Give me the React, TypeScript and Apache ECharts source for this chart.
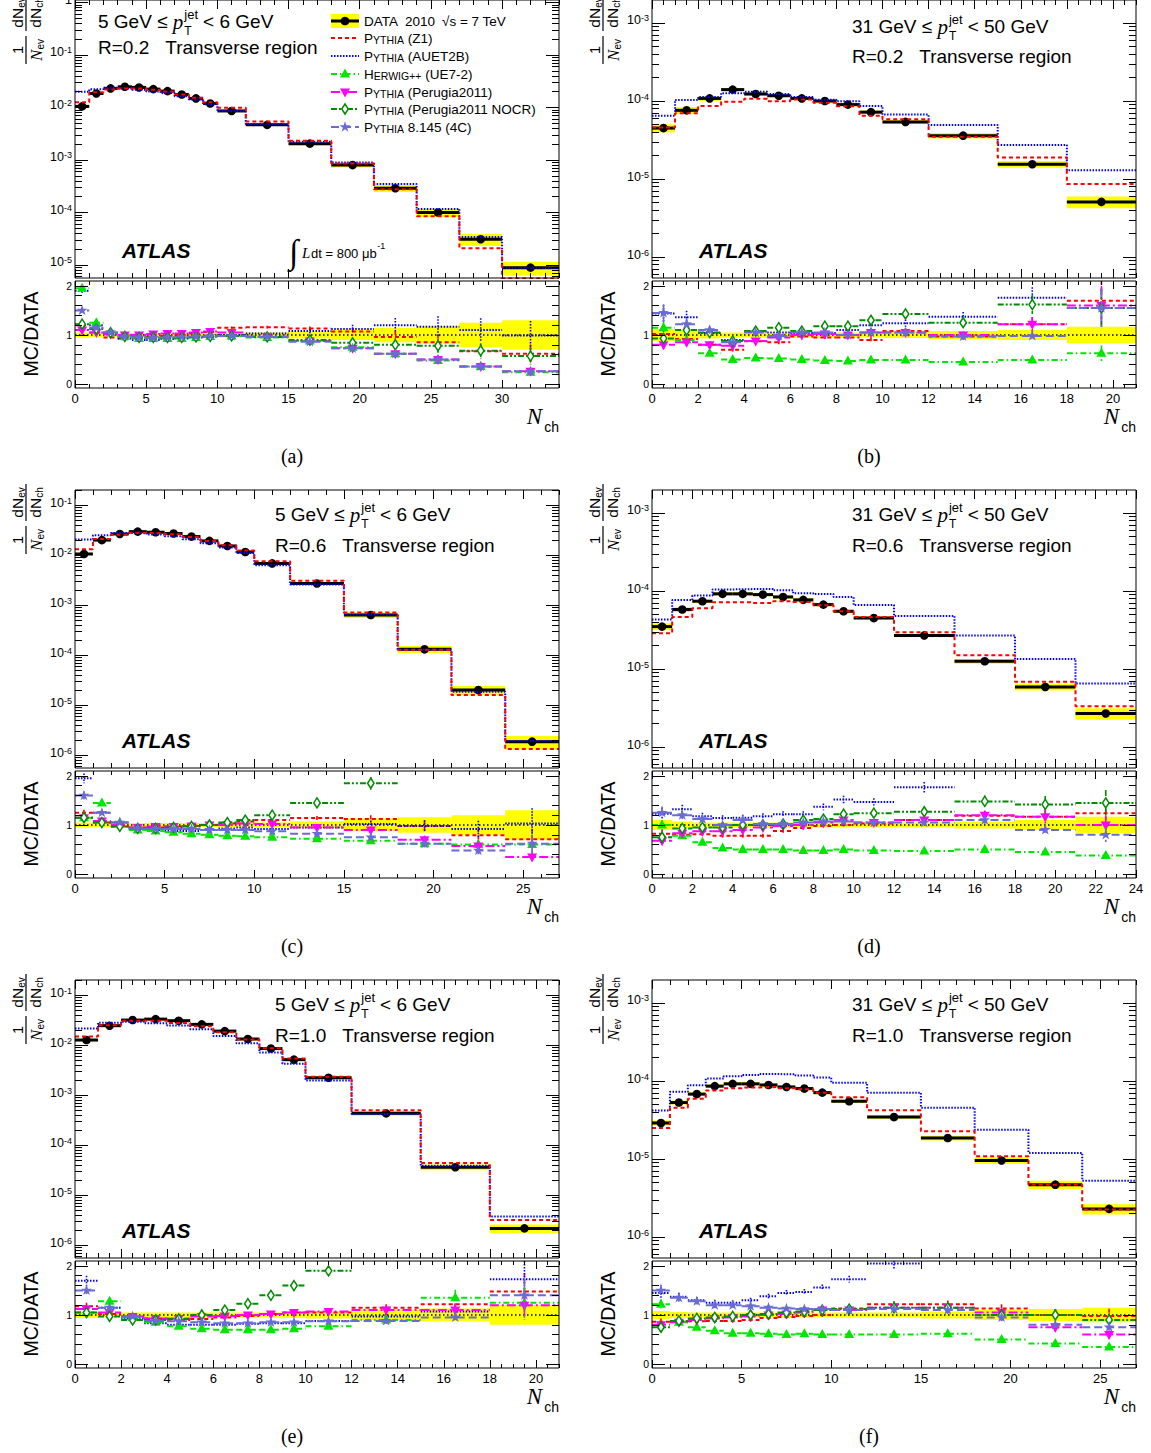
import React, { useEffect, useRef } from "react";
import * as echarts from "echarts";

const SANS = "'Liberation Sans', Arial, Helvetica, sans-serif";
const SERIF = "'Liberation Serif', 'Times New Roman', serif";

// ================= DATA =================
// edges: N_ch bin edges; data: 1/Nev dNev/dNch; band: relative data uncertainty
// z1/au/hw/p11/nocr/c4: MC/DATA ratios; stat: relative MC statistical error

// (a) 5 GeV <= pT < 6 GeV, R=0.2
const edgesA = [0, 1, 2, 3, 4, 5, 6, 7, 8, 9, 10, 12, 15, 18, 21, 24, 27, 30, 34];
const dataA = [0.0105, 0.0185, 0.0231, 0.0248, 0.0241, 0.0224, 0.0205, 0.0177, 0.0149, 0.0119, 0.0086, 0.00467, 0.00205, 0.0008, 0.00029, 0.0001, 0.000031, 0.0000089];
const bandA = [0.05, 0.04, 0.04, 0.04, 0.04, 0.04, 0.04, 0.04, 0.04, 0.05, 0.05, 0.05, 0.07, 0.1, 0.15, 0.18, 0.25, 0.3];
const z1A = [1.2, 1.05, 0.95, 0.93, 0.95, 0.97, 0.98, 1.0, 1.03, 1.06, 1.15, 1.16, 1.13, 1.07, 0.96, 0.85, 0.67, 0.62];
const auA = [1.9, 1.2, 1.03, 0.93, 0.9, 0.9, 0.92, 0.93, 0.95, 0.97, 1.0, 1.03, 1.08, 1.12, 1.2, 1.17, 1.1, 0.99];
const hwA = [1.95, 1.25, 1.05, 0.97, 0.93, 0.93, 0.93, 0.93, 0.95, 0.97, 0.98, 0.95, 0.88, 0.75, 0.62, 0.48, 0.36, 0.24];
const p11A = [1.1, 1.05, 1.02, 1.0, 1.0, 1.02, 1.03, 1.03, 1.05, 1.07, 1.05, 0.97, 0.88, 0.73, 0.62, 0.5, 0.36, 0.26];
const nocrA = [1.22, 1.12, 1.05, 0.97, 0.95, 0.95, 0.95, 0.95, 0.96, 0.97, 0.98, 0.96, 0.9, 0.84, 0.8, 0.78, 0.68, 0.57];
const c4A = [1.5, 1.15, 1.05, 0.97, 0.95, 0.94, 0.95, 0.96, 0.97, 0.98, 0.98, 0.96, 0.86, 0.73, 0.62, 0.5, 0.36, 0.26];
const statA = [0.02, 0.02, 0.015, 0.015, 0.015, 0.015, 0.015, 0.015, 0.02, 0.02, 0.02, 0.025, 0.04, 0.08, 0.12, 0.18, 0.22, 0.3];

// (b) 31 GeV <= pT < 50 GeV, R=0.2
const edgesB = [0, 1, 2, 3, 4, 5, 6, 7, 8, 9, 10, 12, 15, 18, 21];
const dataB = [4.5e-5, 7.6e-5, 1.08e-4, 1.4e-4, 1.23e-4, 1.17e-4, 1.08e-4, 1.0e-4, 9.0e-5, 7.2e-5, 5.4e-5, 3.6e-5, 1.55e-5, 5.1e-6];
const bandB = [0.12, 0.1, 0.07, 0.05, 0.05, 0.05, 0.05, 0.05, 0.05, 0.05, 0.06, 0.08, 0.1, 0.17];
const z1B = [1.02, 0.92, 0.8, 0.7, 0.87, 0.85, 0.97, 0.95, 0.95, 0.9, 1.08, 0.97, 1.22, 1.7];
const auB = [1.44, 1.36, 1.04, 0.9, 1.07, 1.05, 1.04, 1.04, 1.1, 1.2, 1.24, 1.37, 1.76, 2.55];
const hwB = [1.15, 0.9, 0.63, 0.5, 0.53, 0.52, 0.5, 0.48, 0.47, 0.49, 0.49, 0.45, 0.49, 0.63];
const p11B = [0.8, 0.85, 0.8, 0.78, 0.88, 0.95, 1.0, 1.02, 1.0, 1.05, 1.05, 1.0, 1.22, 1.6];
const nocrB = [0.93, 1.1, 1.05, 0.88, 1.08, 1.15, 1.08, 1.18, 1.18, 1.3, 1.43, 1.25, 1.62, 1.55];
const c4B = [1.45, 1.22, 1.1, 0.85, 1.05, 0.98, 1.05, 1.05, 1.0, 1.05, 1.05, 0.97, 0.98, 1.55];
const statB = [0.12, 0.1, 0.08, 0.06, 0.05, 0.05, 0.05, 0.05, 0.06, 0.06, 0.06, 0.07, 0.12, 0.25];

// (c) 5 GeV <= pT < 6 GeV, R=0.6
const edgesC = [0, 1, 2, 3, 4, 5, 6, 7, 8, 9, 10, 12, 15, 18, 21, 24, 27];
const dataC = [0.0105, 0.0199, 0.0264, 0.0294, 0.0286, 0.027, 0.0234, 0.0192, 0.0152, 0.0115, 0.0068, 0.0027, 6.3e-4, 1.3e-4, 2.0e-5, 1.85e-6];
const bandC = [0.05, 0.04, 0.04, 0.04, 0.04, 0.04, 0.04, 0.04, 0.04, 0.05, 0.05, 0.07, 0.13, 0.16, 0.2, 0.3];
const z1C = [1.25, 1.05, 0.97, 0.95, 0.95, 0.97, 0.98, 1.0, 1.03, 1.07, 1.1, 1.14, 1.12, 0.98, 0.79, 0.71];
const auC = [1.95, 1.25, 1.05, 0.93, 0.9, 0.88, 0.88, 0.9, 0.93, 0.95, 0.92, 0.95, 1.02, 0.98, 0.92, 1.03];
const hwC = [1.15, 1.45, 1.05, 0.9, 0.88, 0.85, 0.82, 0.8, 0.78, 0.77, 0.75, 0.72, 0.68, 0.62, 0.6, 0.6];
const p11C = [1.15, 1.08, 1.0, 0.95, 0.97, 0.97, 0.98, 1.0, 1.0, 1.03, 1.02, 0.95, 0.9, 0.7, 0.57, 0.35];
const nocrC = [1.15, 1.05, 0.97, 0.93, 0.93, 0.95, 0.97, 1.0, 1.05, 1.1, 1.2, 1.45, 1.85, 2.6, 3.5, 4.5];
const c4C = [1.6, 1.25, 1.05, 0.93, 0.92, 0.92, 0.92, 0.9, 0.9, 0.9, 0.87, 0.82, 0.75, 0.62, 0.48, 0.62];
const statC = [0.05, 0.03, 0.02, 0.02, 0.02, 0.02, 0.02, 0.02, 0.02, 0.02, 0.025, 0.04, 0.07, 0.12, 0.18, 0.3];

// (d) 31 GeV <= pT < 50 GeV, R=0.6
const edgesD = [0, 1, 2, 3, 4, 5, 6, 7, 8, 9, 10, 12, 15, 18, 21, 24];
const dataD = [3.5e-5, 5.8e-5, 7.4e-5, 9.2e-5, 9.2e-5, 9.0e-5, 8.4e-5, 7.7e-5, 6.7e-5, 5.5e-5, 4.5e-5, 2.7e-5, 1.26e-5, 5.9e-6, 2.7e-6];
const bandD = [0.1, 0.07, 0.05, 0.05, 0.05, 0.05, 0.05, 0.05, 0.05, 0.05, 0.05, 0.05, 0.07, 0.1, 0.17];
const z1D = [0.82, 0.8, 0.81, 0.78, 0.78, 0.78, 0.88, 0.94, 0.98, 1.0, 1.03, 1.1, 1.19, 1.17, 1.24];
const auD = [1.23, 1.32, 1.18, 1.14, 1.15, 1.18, 1.22, 1.22, 1.37, 1.52, 1.47, 1.77, 2.13, 2.28, 2.42];
const hwD = [1.0, 0.78, 0.65, 0.53, 0.5, 0.5, 0.5, 0.48, 0.48, 0.5, 0.48, 0.47, 0.5, 0.45, 0.38];
const p11D = [0.68, 0.83, 0.87, 0.87, 0.9, 0.95, 0.98, 1.0, 1.05, 1.1, 1.05, 1.1, 1.2, 1.17, 1.0];
const nocrD = [0.75, 0.93, 0.95, 0.95, 1.0, 1.0, 1.02, 1.1, 1.12, 1.22, 1.24, 1.27, 1.48, 1.42, 1.45];
const c4D = [1.25, 1.2, 1.12, 1.0, 1.1, 1.02, 1.02, 1.05, 1.07, 1.07, 1.05, 1.05, 1.1, 0.9, 0.8];
const statD = [0.1, 0.07, 0.06, 0.05, 0.05, 0.05, 0.05, 0.05, 0.05, 0.05, 0.05, 0.06, 0.08, 0.12, 0.18];

// (e) 5 GeV <= pT < 6 GeV, R=1.0
const edgesE = [0, 1, 2, 3, 4, 5, 6, 7, 8, 9, 10, 12, 15, 18, 21];
const dataE = [0.0126, 0.0244, 0.0316, 0.033, 0.0307, 0.0259, 0.019, 0.0132, 0.0085, 0.0051, 0.00222, 4.3e-4, 3.6e-5, 2.15e-6];
const bandE = [0.06, 0.05, 0.05, 0.05, 0.05, 0.05, 0.05, 0.05, 0.05, 0.06, 0.07, 0.1, 0.13, 0.2];
const z1E = [1.18, 1.02, 0.97, 0.93, 0.9, 0.92, 0.95, 0.98, 1.02, 1.05, 1.05, 1.15, 1.22, 1.48];
const auE = [1.7, 1.15, 0.93, 0.83, 0.8, 0.8, 0.8, 0.82, 0.83, 0.83, 0.88, 0.97, 1.07, 1.73];
const hwE = [1.05, 1.28, 0.95, 0.85, 0.77, 0.72, 0.7, 0.7, 0.7, 0.72, 0.77, 0.9, 1.35, 1.25];
const p11E = [1.12, 1.05, 0.97, 0.93, 0.93, 0.97, 0.98, 1.0, 1.02, 1.05, 1.07, 1.1, 1.1, 1.2];
const nocrE = [1.05, 0.97, 0.9, 0.9, 0.92, 1.0, 1.1, 1.23, 1.4, 1.6, 1.9, 2.5, 3.0, 3.5];
const c4E = [1.5, 1.15, 0.97, 0.88, 0.87, 0.85, 0.83, 0.83, 0.85, 0.85, 0.87, 0.88, 0.95, 1.4];
const statE = [0.06, 0.03, 0.02, 0.02, 0.02, 0.02, 0.02, 0.02, 0.03, 0.03, 0.04, 0.06, 0.12, 0.25];

// (f) 31 GeV <= pT < 50 GeV, R=1.0
const edgesF = [0, 1, 2, 3, 4, 5, 6, 7, 8, 9, 10, 12, 15, 18, 21, 24, 27];
const dataF = [2.9e-5, 5.3e-5, 6.8e-5, 8.6e-5, 9.2e-5, 9.2e-5, 8.9e-5, 8.4e-5, 8.0e-5, 7.1e-5, 5.5e-5, 3.45e-5, 1.86e-5, 9.6e-6, 4.7e-6, 2.3e-6];
const bandF = [0.08, 0.06, 0.05, 0.05, 0.05, 0.05, 0.05, 0.05, 0.05, 0.05, 0.05, 0.05, 0.07, 0.1, 0.12, 0.15];
const z1F = [0.86, 0.86, 0.87, 0.88, 0.88, 0.9, 0.94, 0.96, 0.98, 1.0, 1.13, 1.22, 1.22, 1.13, 1.0, 0.98];
const auF = [1.45, 1.37, 1.3, 1.25, 1.25, 1.3, 1.38, 1.45, 1.47, 1.56, 1.73, 2.05, 2.45, 2.47, 2.55, 2.3];
const hwF = [1.22, 0.85, 0.75, 0.68, 0.63, 0.63, 0.62, 0.6, 0.62, 0.6, 0.6, 0.6, 0.62, 0.5, 0.42, 0.35];
const p11F = [0.8, 0.85, 0.9, 0.93, 0.95, 0.97, 1.0, 1.02, 1.05, 1.1, 1.1, 1.15, 1.15, 1.05, 0.75, 0.6];
const nocrF = [0.75, 0.88, 0.93, 0.95, 0.97, 1.0, 1.02, 1.05, 1.07, 1.1, 1.12, 1.15, 1.15, 1.0, 1.0, 0.9];
const c4F = [1.5, 1.35, 1.28, 1.2, 1.2, 1.18, 1.15, 1.13, 1.12, 1.12, 1.1, 1.12, 1.1, 0.95, 0.8, 0.75];
const statF = [0.08, 0.06, 0.05, 0.05, 0.04, 0.04, 0.04, 0.04, 0.04, 0.04, 0.04, 0.05, 0.06, 0.08, 0.12, 0.15];

const PANELS = [
  { edges: edgesA, data: dataA, band: bandA, stat: statA, ratios: [z1A, auA, hwA, p11A, nocrA, c4A] },
  { edges: edgesB, data: dataB, band: bandB, stat: statB, ratios: [z1B, auB, hwB, p11B, nocrB, c4B] },
  { edges: edgesC, data: dataC, band: bandC, stat: statC, ratios: [z1C, auC, hwC, p11C, nocrC, c4C] },
  { edges: edgesD, data: dataD, band: bandD, stat: statD, ratios: [z1D, auD, hwD, p11D, nocrD, c4D] },
  { edges: edgesE, data: dataE, band: bandE, stat: statE, ratios: [z1E, auE, hwE, p11E, nocrE, c4E] },
  { edges: edgesF, data: dataF, band: bandF, stat: statF, ratios: [z1F, auF, hwF, p11F, nocrF, c4F] },
];

const MC_NAMES = ["(Z1)", "(AUET2B)", "(UE7-2)", "(Perugia2011)", "(Perugia2011 NOCR)", "8.145 (4C)"];

// ================= LAYOUT / STYLE =================
const COLX = [75, 652];
const ROWY = [0, 490, 980];
const FW = 484;
const TOP_H = 278;
const RAT_OFF = 281;
const RAT_H = 107;
const RMIN = -0.08;
const RMAX = 2.1;

const LAYOUT = [
  { col: 0, row: 0, ymin: 5.65e-6, ymax: 1.116, xmax: 34, xMaj: 5, xMin: 1, lo: "5 GeV", hi: "6 GeV", R: "0.2", tx: 98, ty: [21, 47], tag: "(a)" },
  { col: 1, row: 0, ymin: 5.4e-7, ymax: 1.97e-3, xmax: 21, xMaj: 2, xMin: 0.5, lo: "31 GeV", hi: "50 GeV", R: "0.2", tx: 852, ty: [26, 56], tag: "(b)" },
  { col: 0, row: 1, ymin: 5.5e-7, ymax: 0.2, xmax: 27, xMaj: 5, xMin: 1, lo: "5 GeV", hi: "6 GeV", R: "0.6", tx: 275, ty: [24, 55], tag: "(c)" },
  { col: 1, row: 1, ymin: 5.4e-7, ymax: 1.97e-3, xmax: 24, xMaj: 2, xMin: 0.5, lo: "31 GeV", hi: "50 GeV", R: "0.6", tx: 852, ty: [24, 55], tag: "(d)" },
  { col: 0, row: 2, ymin: 5.5e-7, ymax: 0.2, xmax: 21, xMaj: 2, xMin: 0.5, lo: "5 GeV", hi: "6 GeV", R: "1.0", tx: 275, ty: [24, 55], tag: "(e)" },
  { col: 1, row: 2, ymin: 5.4e-7, ymax: 1.97e-3, xmax: 27, xMaj: 5, xMin: 1, lo: "31 GeV", hi: "50 GeV", R: "1.0", tx: 852, ty: [24, 55], tag: "(f)" },
];

const STYLES = [
  { color: "#ff0000", dash: [4, 3], marker: "" },
  { color: "#0000ff", dash: [1.5, 1.5], marker: "" },
  { color: "#00e600", dash: [6, 3, 1.5, 3], marker: "tri" },
  { color: "#ff00ff", dash: [9, 3, 2, 3], marker: "tridown" },
  { color: "#008c00", dash: [6, 2, 2, 2, 2, 2], marker: "diamond" },
  { color: "#6b6bd6", dash: [8, 4], marker: "star" },
];

// ================= HELPERS =================
let mctx: any = null;
function tw(text: string, size: number, family = SANS, style = "normal", weight = "normal") {
  if (!mctx) mctx = document.createElement("canvas").getContext("2d");
  mctx.font = `${style} ${weight} ${size}px ${family}`;
  return mctx.measureText(text).width;
}

function T(x: number, y: number, text: string, o: any = {}) {
  return {
    type: "text",
    x,
    y,
    rotation: o.rotation || 0,
    z: 50,
    silent: true,
    style: {
      text,
      fill: o.fill || "#000",
      fontSize: o.size || 13,
      fontFamily: o.family || SANS,
      fontStyle: o.italic ? "italic" : "normal",
      fontWeight: o.bold ? "bold" : "normal",
      align: o.align || "left",
      verticalAlign: o.va || "middle",
      textAlign: o.align || "left",
      textVerticalAlign: o.va || "middle",
      rich: o.rich,
    },
  };
}

function markerEl(kind: string, cx: number, cy: number, color: string, s = 5) {
  if (kind === "tri")
    return { type: "polygon", shape: { points: [[cx, cy - s * 1.1], [cx + s, cy + s * 0.7], [cx - s, cy + s * 0.7]] }, style: { fill: color } };
  if (kind === "tridown")
    return { type: "polygon", shape: { points: [[cx, cy + s * 1.1], [cx + s, cy - s * 0.7], [cx - s, cy - s * 0.7]] }, style: { fill: color } };
  if (kind === "diamond")
    return { type: "polygon", shape: { points: [[cx, cy - s], [cx + s * 0.65, cy], [cx, cy + s], [cx - s * 0.65, cy]] }, style: { fill: "#fff", stroke: color, lineWidth: 1.5 } };
  if (kind === "star") {
    const pts: number[][] = [];
    for (let k = 0; k < 10; k++) {
      const r = k % 2 === 0 ? s * 1.15 : s * 0.45;
      const a = -Math.PI / 2 + (k * Math.PI) / 5;
      pts.push([cx + r * Math.cos(a), cy + r * Math.sin(a)]);
    }
    return { type: "polygon", shape: { points: pts }, style: { fill: color } };
  }
  return null;
}

function logMajors(min: number, max: number) {
  const out: number[] = [];
  for (let e = Math.ceil(Math.log10(min) - 1e-9); e <= Math.floor(Math.log10(max) + 1e-9); e++) out.push(Number(`1e${e}`));
  return out;
}
function logMinors(min: number, max: number) {
  const out: number[] = [];
  for (let e = Math.floor(Math.log10(min)); e <= Math.floor(Math.log10(max)); e++)
    for (let k = 2; k <= 9; k++) {
      const v = Number(`${k}e${e}`);
      if (v >= min && v <= max) out.push(v);
    }
  return out;
}
function linTicks(min: number, max: number, step: number) {
  const out: number[] = [];
  const n0 = Math.ceil(min / step - 1e-9);
  const n1 = Math.floor(max / step + 1e-9);
  for (let k = n0; k <= n1; k++) out.push(+(k * step).toFixed(6));
  return out;
}

function bandRender(params: any, api: any) {
  const lo = api.value(0), hi = api.value(1), v = api.value(2), e = api.value(3);
  const p1 = api.coord([lo, v * (1 + e)]);
  const p2 = api.coord([hi, v * (1 - e)]);
  const cs = params.coordSys;
  const rect = echarts.graphic.clipRectByRect(
    { x: p1[0], y: p1[1], width: p2[0] - p1[0], height: p2[1] - p1[1] },
    { x: cs.x, y: cs.y, width: cs.width, height: cs.height }
  );
  if (!rect) return { type: "group", children: [] };
  return { type: "rect", shape: rect, style: { fill: "#ffff00" } };
}

function dataRender(params: any, api: any) {
  const lo = api.value(0), hi = api.value(1), v = api.value(2);
  const a = api.coord([lo, v]);
  const b = api.coord([hi, v]);
  return {
    type: "group",
    children: [
      { type: "line", shape: { x1: a[0], y1: a[1], x2: b[0], y2: b[1] }, style: { stroke: "#000", lineWidth: 3 } },
      { type: "circle", shape: { cx: (a[0] + b[0]) / 2, cy: a[1], r: 4.3 }, style: { fill: "#000" } },
    ],
  };
}

function ratioRenderer(st: any) {
  return (params: any, api: any) => {
    const lo = api.value(0), hi = api.value(1), r = api.value(2), e = api.value(3);
    if (!(r > RMIN && r < RMAX)) return { type: "group", children: [] };
    const a = api.coord([lo, r]);
    const b = api.coord([hi, r]);
    const cx = (a[0] + b[0]) / 2, cy = a[1];
    const yt = api.coord([lo, Math.min(r + e, RMAX)])[1];
    const yb = api.coord([lo, Math.max(r - e, RMIN)])[1];
    const ls = { stroke: st.color, lineWidth: 2, lineDash: st.dash, fill: null };
    const ch: any[] = [
      { type: "line", shape: { x1: a[0], y1: cy, x2: b[0], y2: cy }, style: ls },
      { type: "line", shape: { x1: cx, y1: yt, x2: cx, y2: yb }, style: { ...ls, lineWidth: 1.6 } },
    ];
    const m = markerEl(st.marker, cx, cy, st.color);
    if (m) ch.push(m);
    return { type: "group", children: ch };
  };
}

function logFormatter(v: number) {
  const e = Math.round(Math.log10(v));
  return e === 0 ? "{b|1}" : `{b|10}{s|${e}}`;
}
const LOG_RICH = {
  b: { fontSize: 12.5, fontFamily: SANS, color: "#000", lineHeight: 18, verticalAlign: "top" },
  s: { fontSize: 9, fontFamily: SANS, color: "#000", lineHeight: 9, verticalAlign: "top" },
};

// ================= TEXT BLOCKS =================
function ptText(x: number, y: number, lo: string, hi: string) {
  const s1 = `${lo} \u2264 `;
  const w1 = tw(s1, 19);
  const wp = tw("p", 21, SERIF, "italic");
  const wj = tw("jet", 13);
  return [
    T(x, y, s1, { size: 19 }),
    T(x + w1, y + 1, "p", { size: 21, family: SERIF, italic: true }),
    T(x + w1 + wp + 1, y - 7, "jet", { size: 13 }),
    T(x + w1 + wp + 1, y + 10, "T", { size: 12 }),
    T(x + w1 + wp + wj + 6, y, `< ${hi}`, { size: 19 }),
  ];
}

function subPair(cx: number, cy: number, main: string, sub: string, mSize: number, sSize: number, family: string, italic: boolean) {
  const wm = tw(main, mSize, family, italic ? "italic" : "normal");
  const ws = tw(sub, sSize);
  const x = cx - (wm + ws) / 2;
  return [
    T(x, cy, main, { size: mSize, family, italic }),
    T(x + wm, cy + 4.5, sub, { size: sSize }),
  ];
}

function yTitle(x: number, y: number) {
  return {
    type: "group",
    x,
    y,
    rotation: Math.PI / 2,
    z: 50,
    silent: true,
    children: [
      { type: "line", shape: { x1: 0, y1: 0, x2: 28, y2: 0 }, style: { stroke: "#000", lineWidth: 1.2 } },
      T(14, -1, "1", { size: 14.5, va: "bottom", align: "center" }),
      ...subPair(14, 10, "N", "ev", 17, 10, SERIF, true),
      { type: "line", shape: { x1: 33, y1: 0, x2: 70, y2: 0 }, style: { stroke: "#000", lineWidth: 1.2 } },
      ...subPair(51.5, -9, "dN", "ev", 15.5, 10, SANS, false),
      ...subPair(51.5, 9, "dN", "ch", 15.5, 10, SANS, false),
    ],
  };
}

function legendElements() {
  const ys = [21, 38, 56, 74, 92, 109, 127];
  const x1 = 331, x2 = 359, xc = 345, xt = 364;
  const els: any[] = [];
  els.push({ type: "rect", shape: { x: x1, y: ys[0] - 7, width: x2 - x1, height: 14 }, style: { fill: "#ffff00" }, z: 49, silent: true });
  els.push({ type: "line", shape: { x1, y1: ys[0], x2, y2: ys[0] }, style: { stroke: "#000", lineWidth: 3 }, z: 50, silent: true });
  els.push({ type: "circle", shape: { cx: xc, cy: ys[0], r: 4.3 }, style: { fill: "#000" }, z: 50, silent: true });
  const wD = tw("DATA", 13.5);
  const w2010 = tw("2010", 13.5);
  els.push(T(xt, ys[0], "DATA", { size: 13.5 }));
  els.push(T(xt + wD + 7, ys[0], "2010", { size: 13.5 }));
  els.push(T(xt + wD + w2010 + 14, ys[0], "\u221As = 7 TeV", { size: 13.5 }));
  const rich = {
    a: { fontSize: 13.5, fontFamily: SANS, color: "#000", verticalAlign: "bottom" },
    b: { fontSize: 10.5, fontFamily: SANS, color: "#000", verticalAlign: "bottom" },
  };
  STYLES.forEach((st, m) => {
    const y = ys[m + 1];
    els.push({ type: "line", shape: { x1, y1: y, x2, y2: y }, style: { stroke: st.color, lineWidth: 2, lineDash: st.dash }, z: 50, silent: true });
    const mk = markerEl(st.marker, xc, y, st.color);
    if (mk) els.push({ ...mk, z: 51, silent: true });
    const txt = m === 2 ? `{a|H}{b|ERWIG++}{a| ${MC_NAMES[m]}}` : `{a|P}{b|YTHIA}{a| ${MC_NAMES[m]}}`;
    els.push(T(xt, y, txt, { rich }));
  });
  return els;
}

function lumiElements() {
  const w = tw("dt = 800 \u03BCb", 13);
  return [
    T(289, 251, "\u222B", { size: 34, family: SERIF }),
    T(302, 253, "L", { size: 15, family: SERIF, italic: true }),
    T(311, 253, "dt = 800 \u03BCb", { size: 13 }),
    T(311 + w + 0.5, 246, "-1", { size: 9 }),
  ];
}

// ================= OPTION =================
function buildOption() {
  const grids: any[] = [];
  const xAxes: any[] = [];
  const yAxes: any[] = [];
  const series: any[] = [];
  const graphics: any[] = [];
  const tickStyle = { color: "#000", width: 1 };

  LAYOUT.forEach((L, i) => {
    const P = PANELS[i];
    const x0 = COLX[L.col];
    const y0 = ROWY[L.row];
    const nb = P.data.length;
    const xMajors = linTicks(0, L.xmax, L.xMaj);
    const xMinors = linTicks(0, L.xmax, L.xMin).filter((v) => Math.abs(v / L.xMaj - Math.round(v / L.xMaj)) > 1e-6);

    const addGrid = (top: number, height: number) => {
      grids.push({ left: x0, top, width: FW, height, show: true, borderColor: "#000", borderWidth: 1, backgroundColor: "transparent", z: 10, outerBoundsMode: "none", containLabel: false });
      return grids.length - 1;
    };
    const addX = (g: number, labels: boolean, majLen: number, minLen: number) => {
      const idx = xAxes.length;
      const base = { type: "value", gridIndex: g, min: 0, max: L.xmax, z: 10, splitLine: { show: false }, axisLine: { show: false, onZero: false }, minorTick: { show: false } };
      xAxes.push({ ...base, position: "bottom", axisTick: { show: true, inside: true, length: majLen, customValues: xMajors, lineStyle: tickStyle }, axisLabel: { show: labels, customValues: xMajors, color: "#000", fontSize: 13, fontFamily: SANS, margin: 4 } });
      xAxes.push({ ...base, position: "bottom", axisTick: { show: true, inside: true, length: minLen, customValues: xMinors, lineStyle: tickStyle }, axisLabel: { show: false } });
      xAxes.push({ ...base, position: "top", axisTick: { show: true, inside: true, length: majLen, customValues: xMajors, lineStyle: tickStyle }, axisLabel: { show: false } });
      xAxes.push({ ...base, position: "top", axisTick: { show: true, inside: true, length: minLen, customValues: xMinors, lineStyle: tickStyle }, axisLabel: { show: false } });
      return idx;
    };
    const addY = (g: number, base: any, majors: number[], minors: number[], label: any) => {
      const idx = yAxes.length;
      const b = { ...base, gridIndex: g, z: 10, splitLine: { show: false }, axisLine: { show: false, onZero: false }, minorTick: { show: false } };
      yAxes.push({ ...b, position: "left", axisTick: { show: true, inside: true, length: 13, customValues: majors, lineStyle: tickStyle }, axisLabel: { show: true, customValues: majors, ...label } });
      yAxes.push({ ...b, position: "left", axisTick: { show: true, inside: true, length: 7, customValues: minors, lineStyle: tickStyle }, axisLabel: { show: false } });
      yAxes.push({ ...b, position: "right", axisTick: { show: true, inside: true, length: 13, customValues: majors, lineStyle: tickStyle }, axisLabel: { show: false } });
      yAxes.push({ ...b, position: "right", axisTick: { show: true, inside: true, length: 7, customValues: minors, lineStyle: tickStyle }, axisLabel: { show: false } });
      return idx;
    };

    // ---- top (distribution) panel ----
    const gT = addGrid(y0, TOP_H);
    const xT = addX(gT, false, 9, 5);
    const yT = addY(
      gT,
      { type: "log", logBase: 10, min: L.ymin, max: L.ymax },
      logMajors(L.ymin, L.ymax),
      logMinors(L.ymin, L.ymax),
      { formatter: logFormatter, rich: LOG_RICH, margin: 3, color: "#000" }
    );
    const bins = P.data.map((v, k) => [P.edges[k], P.edges[k + 1], v]);
    series.push({ type: "custom", xAxisIndex: xT, yAxisIndex: yT, z: 1, silent: true, encode: { x: [0, 1], y: 2 }, renderItem: bandRender, data: P.data.map((v, k) => [P.edges[k], P.edges[k + 1], v, P.band[k]]) });
    series.push({ type: "custom", xAxisIndex: xT, yAxisIndex: yT, z: 3, silent: true, encode: { x: [0, 1], y: 2 }, renderItem: dataRender, data: bins });
    [1, 0].forEach((m) => {
      const st = STYLES[m];
      series.push({
        type: "line", xAxisIndex: xT, yAxisIndex: yT, z: 4, silent: true, step: "end", symbol: "none", clip: true,
        lineStyle: { color: st.color, width: 2, type: st.dash },
        data: P.edges.map((e, k) => {
          const j = Math.min(k, nb - 1);
          return [e, P.data[j] * P.ratios[m][j]];
        }),
      });
    });

    // ---- ratio panel ----
    const gR = addGrid(y0 + RAT_OFF, RAT_H);
    const xR = addX(gR, true, 8, 4);
    const yR = addY(
      gR,
      { type: "value", min: RMIN, max: RMAX },
      [0, 1, 2],
      [0.2, 0.4, 0.6, 0.8, 1.2, 1.4, 1.6, 1.8],
      { color: "#000", fontSize: 10.5, fontFamily: SANS, margin: 3 }
    );
    series.push({ type: "custom", xAxisIndex: xR, yAxisIndex: yR, z: 1, silent: true, encode: { x: [0, 1], y: 2 }, renderItem: bandRender, data: P.band.map((e, k) => [P.edges[k], P.edges[k + 1], 1, e]) });
    series.push({ type: "line", xAxisIndex: xR, yAxisIndex: yR, z: 2, silent: true, symbol: "none", lineStyle: { color: "#000", width: 1.5, type: [1.5, 2.5] }, data: [[0, 1], [L.xmax, 1]] });
    STYLES.forEach((st, m) => {
      series.push({
        type: "custom", xAxisIndex: xR, yAxisIndex: yR, z: 3 + m * 0.1, silent: true, encode: { x: [0, 1], y: 2 },
        renderItem: ratioRenderer(st),
        data: P.ratios[m].map((r, k) => [P.edges[k], P.edges[k + 1], r, r * P.stat[k]]),
      });
    });

    // ---- texts ----
    graphics.push(...ptText(L.tx, y0 + L.ty[0], L.lo, L.hi));
    const wr = tw(`R=${L.R}`, 19);
    graphics.push(T(L.tx, y0 + L.ty[1], `R=${L.R}`, { size: 19 }));
    graphics.push(T(L.tx + wr + 16, y0 + L.ty[1], "Transverse region", { size: 19 }));
    graphics.push(T(x0 + 47, y0 + 250, "ATLAS", { size: 21, bold: true, italic: true }));
    graphics.push(yTitle(x0 - 49, y0 + 64));
    graphics.push(T(x0 - 44, y0 + 334, "MC/DATA", { size: 19.5, rotation: Math.PI / 2, align: "center" }));
    graphics.push(T(x0 + FW - 17, y0 + 416, "N", { size: 23, family: SERIF, italic: true, align: "right" }));
    graphics.push(T(x0 + FW, y0 + 427, "ch", { size: 14, align: "right" }));
    graphics.push(T(x0 + 217, y0 + 456, L.tag, { size: 20, family: SERIF, align: "center" }));
    if (i === 0) {
      graphics.push(...legendElements());
      graphics.push(...lumiElements());
    }
  });

  return {
    animation: false,
    backgroundColor: "#ffffff",
    textStyle: { fontFamily: SANS },
    grid: grids,
    xAxis: xAxes,
    yAxis: yAxes,
    series,
    graphic: { elements: graphics },
  };
}

export default function App() {
  const ref = useRef<HTMLDivElement>(null);
  useEffect(() => {
    if (!ref.current) return;
    const chart = echarts.init(ref.current, null, { renderer: "svg" });
    chart.setOption(buildOption() as any);
    return () => chart.dispose();
  }, []);
  return (
    <div
      ref={ref}
      style={{ position: "absolute", left: 0, top: 0, width: 1151, height: 1453, background: "#fff" }}
    />
  );
}
